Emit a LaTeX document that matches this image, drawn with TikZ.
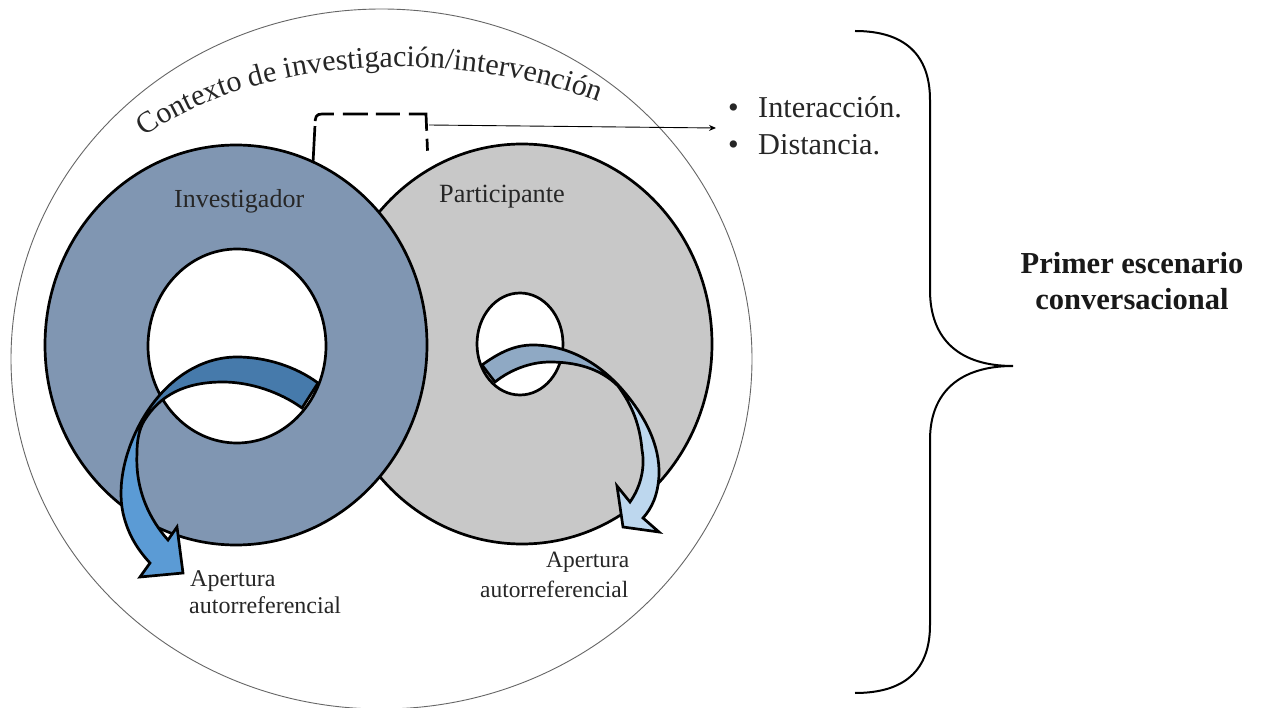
\documentclass[tikz,border=0pt]{standalone}
\usepackage{fontspec}
\setmainfont{Liberation Serif}
\usetikzlibrary{decorations.text,arrows.meta}
\definecolor{ringblue}{HTML}{8096B2}
\definecolor{ringgrey}{HTML}{C8C8C8}
\definecolor{adark}{HTML}{467AAB}
\definecolor{alight}{HTML}{5B9BD5}
\definecolor{bdark}{HTML}{8FA9C4}
\definecolor{blight}{HTML}{BDD7EE}
\tikzset{
  ring/.style={draw=black,line width=2.7pt,even odd rule},
  outl/.style={draw=black,line width=2.7pt,line join=miter},
  lbl/.style={inner sep=0pt,anchor=base west,font=\fontsize{#1}{#1}\selectfont,text=black!85}
}
\begin{document}
\begin{tikzpicture}[x=1pt,y=-1pt]
\useasboundingbox (0,0) rectangle (1262,708);
\clip (0,0) rectangle (1262,708);
\fill[white] (0,0) rectangle (1262,708);
% outer
\draw[black!60,line width=0.9pt] (381.5,359) ellipse [x radius=370.5,y radius=350];
% rings
\path[ring,fill=ringgrey] (522,344) ellipse [x radius=190,y radius=200] (520,344) ellipse [x radius=43,y radius=51];
\path[ring,fill=ringblue] (236,345) ellipse [x radius=191,y radius=200] (237,346) ellipse [x radius=89,y radius=97];
% left arrow
\def\leftarrowpath{(318,383) .. controls (295,366) and (265,357) .. (237,357)
  .. controls (200,357) and (165,380) .. (142,420)
  .. controls (125,450) and (117,485) .. (123,513)
  .. controls (128,535) and (138,550) .. (150,563)
  -- (140,577) -- (183,573) -- (177,527) -- (168,540)
  .. controls (150,520) and (135,490) .. (137,453)
  .. controls (137,440) and (139,430) .. (144,421)
  .. controls (160,395) and (185,382) .. (223,382)
  .. controls (250,382) and (280,392) .. (302,408) -- cycle}
\fill[alight] \leftarrowpath;
\begin{scope}
\clip (144,330) rectangle (340,421);
\fill[adark] \leftarrowpath;
\end{scope}
\draw[outl] \leftarrowpath;
% right arrow
\def\rightarrowpath{(482,365) .. controls (500,352) and (515,345) .. (533,345)
  .. controls (565,345) and (595,360) .. (620,387)
  .. controls (645,415) and (660,445) .. (659,475)
  .. controls (658,495) and (652,508) .. (643,518)
  -- (659,532) -- (623,527) -- (617,486) -- (630,502)
  .. controls (642,485) and (645,465) .. (642,450)
  .. controls (640,425) and (632,405) .. (618,386)
  .. controls (600,368) and (575,362) .. (550,362)
  .. controls (530,362) and (510,370) .. (495,382) -- cycle}
\fill[blight] \rightarrowpath;
\begin{scope}
\clip (470,330) rectangle (620,400);
\fill[bdark] \rightarrowpath;
\end{scope}
\draw[outl] \rightarrowpath;
% dashed bracket
\coordinate (dl) at (313,163);
\coordinate (dr) at (428,163);
\coordinate (ar) at (429,125);
\coordinate (at) at (716,128);
\draw[line width=2.7pt,dash pattern=on 37pt off 5pt on 23pt off 9pt on 25pt off 8pt on 24pt off 9pt on 34pt off 8pt on 12pt] (dl) -- (315,125) .. controls (315,117) and (316,114) .. (322,114) -- (426,114) -- (dr);
\draw[line width=0.9pt,-{Stealth[length=7pt,width=6pt]}] (ar) -- (at);
% labels
\node[lbl=26] (inv) at (174,208) {Investigador};
\node[lbl=26.3] (par) at (439,203) {Participante};
\node[lbl=24] (ap1) at (190,586) {Apertura};
\node[lbl=24] (au1) at (189,613) {autorreferencial};
\node[lbl=23.4] (ap2) at (546,568) {Apertura};
\node[lbl=23.4] (au2) at (480,597) {autorreferencial};
\node[lbl=30.3] (b1) at (728,118) {•};
\node[lbl=30.3] (i1) at (758,118) {Interacción.};
\node[lbl=30.3] (b2) at (728,155) {•};
\node[lbl=30.3] (i2) at (758,155) {Distancia.};
\node[anchor=center,align=center,font=\fontsize{30.5}{36}\selectfont\bfseries,text=black!90,inner sep=0pt] (esc) at (1132,281) {Primer escenario\\conversacional};
% brace
\draw[black,line width=2pt] (855,31) .. controls (905,31) and (930,55) .. (930,100) -- (930,290) .. controls (930,340) and (960,366) .. (1013,366) .. controls (960,366) and (930,392) .. (930,440) -- (930,625) .. controls (930,670) and (905,693) .. (855,693);
% curved title
\path[decorate,decoration={text along path,text align={align=left},raise=0pt,
  text={|\fontsize{30}{30}\selectfont\color{black!85}|Contexto de investigación/intervención}}]
  (145,137) .. controls (205,92) and (300,69) .. (385,67) .. controls (455,66) and (530,75) .. (610,106);
\end{tikzpicture}
\end{document}
